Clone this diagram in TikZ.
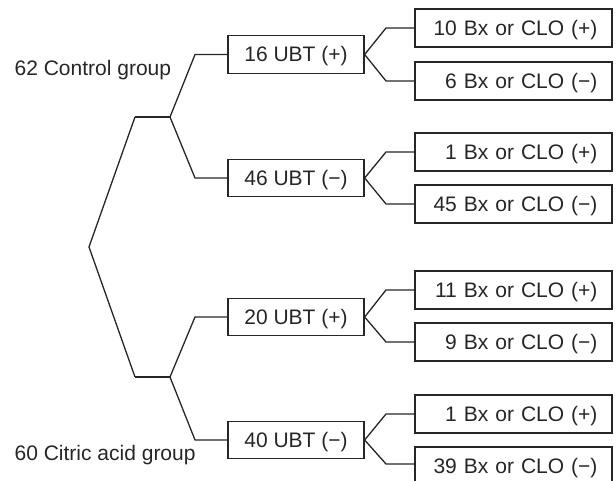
\documentclass[tikz,border=0pt]{standalone}
\usepackage{fontspec}
\setmainfont{Liberation Sans}
\begin{document}
\begin{tikzpicture}[x=1pt,y=-1pt,
  line width=1.3pt, draw=black!85, text=black!85,
  every node/.style={font=\fontsize{21}{24}\selectfont},
  ubt/.style={draw, line width=1.3pt, minimum width=136pt, minimum height=37.5pt, inner xsep=0pt, inner ysep=0pt, text height=15pt, text depth=0pt},
  leaf/.style={draw, line width=1.3pt, text width=168pt, align=right, inner xsep=14.5pt, minimum height=38pt, inner ysep=0pt, text height=15pt, text depth=0pt},
  lbl/.style={inner sep=0pt, anchor=base west}]
\useasboundingbox (0,0) rectangle (616,481);
% labels
\node[lbl] (lc) at (14,76) {62 Control group};
\node[lbl] (la) at (14,460) {60 Citric acid group};
% tree coordinates
\coordinate (R) at (89,247);
\coordinate (Ca) at (135,117);
\coordinate (Cb) at (170,117);
\coordinate (Aa) at (135,377);
\coordinate (Ab) at (170,377);
% UBT boxes
\node[ubt] (u1) at (296,54.5) {16 UBT (+)};
\node[ubt] (u2) at (296,178) {46 UBT (−)};
\node[ubt] (u3) at (296,317) {20 UBT (+)};
\node[ubt] (u4) at (296,440) {40 UBT (−)};
% leaves
\node[leaf] (l1) at (513.5,28) {10 Bx or CLO (+)};
\node[leaf] (l2) at (513.5,81) {6 Bx or CLO (−)};
\node[leaf] (l3) at (513.5,152) {1 Bx or CLO (+)};
\node[leaf] (l4) at (513.5,204) {45 Bx or CLO (−)};
\node[leaf] (l5) at (513.5,290) {11 Bx or CLO (+)};
\node[leaf] (l6) at (513.5,342) {9 Bx or CLO (−)};
\node[leaf] (l7) at (513.5,414) {1 Bx or CLO (+)};
\node[leaf] (l8) at (513.5,466) {39 Bx or CLO (−)};
% root
\draw (Ca) -- (R) -- (Aa);
\draw (Ca) -- (Cb);
\draw (Aa) -- (Ab);
% to UBT
\draw (Cb) -- (195,54.5) -- (u1.west);
\draw (Cb) -- (195,178) -- (u2.west);
\draw (Ab) -- (195,317) -- (u3.west);
\draw (Ab) -- (195,440) -- (u4.west);
% to leaves
\draw (u1.east) -- (386,28) -- (l1.west);
\draw (u1.east) -- (386,81) -- (l2.west);
\draw (u2.east) -- (386,152) -- (l3.west);
\draw (u2.east) -- (386,204) -- (l4.west);
\draw (u3.east) -- (386,290) -- (l5.west);
\draw (u3.east) -- (386,342) -- (l6.west);
\draw (u4.east) -- (386,414) -- (l7.west);
\draw (u4.east) -- (386,464) -- (l8.west |- 0,464);
\end{tikzpicture}
\end{document}
